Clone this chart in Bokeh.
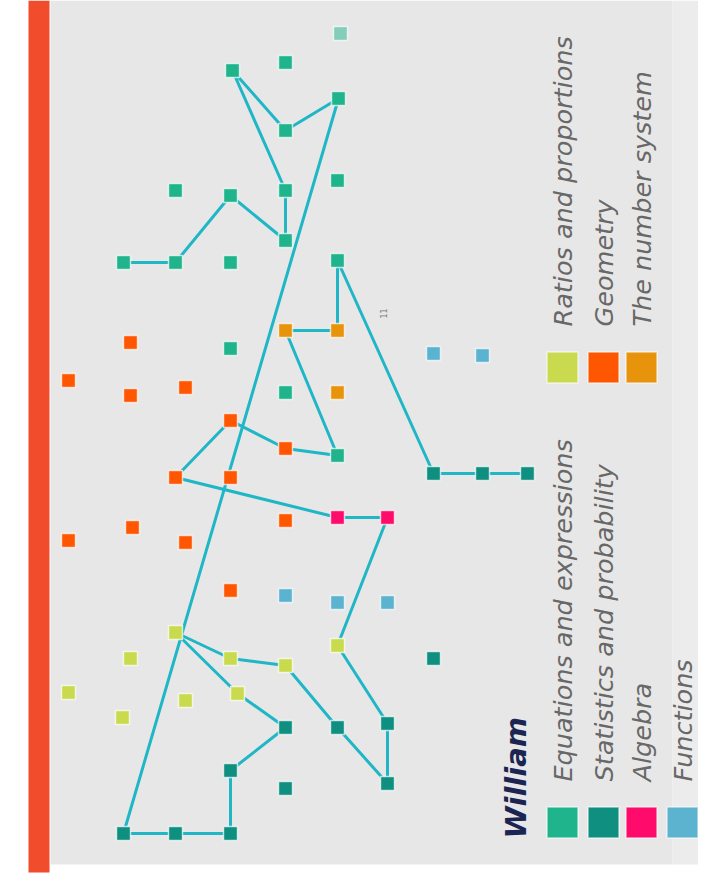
import math
from bokeh.plotting import figure
from bokeh.models import Range1d, BoxAnnotation, ColumnDataSource
from bokeh.core.properties import value
from bokeh.embed import file_html
from bokeh.resources import INLINE

# ---------------- data ----------------
student = "William"

categories = ["Equations and expressions", "Statistics and probability", "Algebra",
              "Functions", "Ratios and proportions", "Geometry", "The number system"]
cat_keys = ["EQ", "ST", "AL", "FN", "RA", "GE", "NS"]
cat_colors = ["#1fb48c", "#0e8f80", "#ff0b6c", "#5cb3d0", "#c9da4e", "#ff5602", "#e8930c"]

# skill positions (chart units: x = level column, y = position along the map)
eq_x = [232, 285, 338, 285, 175, 230, 285, 337, 123, 175, 230, 285, 337, 340, 230, 285, 337]
eq_y = [70, 62, 98, 130, 190, 195, 190, 180, 262, 262, 262, 240, 260, 33, 348, 392, 455]
st_x = [433, 482, 527, 433, 285, 337, 387, 230, 285, 387, 123, 175, 230]
st_y = [473, 473, 473, 658, 727, 727, 723, 770, 788, 783, 833, 833, 833]
al_x = [337, 387]
al_y = [517, 517]
fn_x = [433, 482, 285, 337, 387]
fn_y = [353, 355, 595, 602, 602]
ra_x = [175, 130, 230, 285, 337, 68, 185, 122, 237]
ra_y = [632, 658, 658, 665, 645, 692, 700, 717, 693]
ge_x = [130, 68, 130, 185, 230, 285, 175, 230, 285, 132, 68, 185, 230]
ge_y = [342, 380, 395, 387, 420, 448, 477, 477, 520, 527, 540, 542, 590]
ns_x = [285, 337, 337]
ns_y = [330, 330, 392]

# faded (not yet reached) skills
faded = [("EQ", 13)]

# learning path: sequence of (category, index)
path = [("EQ", 8), ("EQ", 9), ("EQ", 5), ("EQ", 11), ("EQ", 6), ("EQ", 0), ("EQ", 3), ("EQ", 2),
        ("ST", 10), ("ST", 11), ("ST", 12), ("ST", 7), ("ST", 4), ("RA", 8), ("RA", 0), ("RA", 2),
        ("RA", 3), ("ST", 5), ("ST", 9), ("ST", 6), ("RA", 4), ("AL", 1), ("AL", 0), ("GE", 6),
        ("GE", 4), ("GE", 5), ("EQ", 16), ("NS", 0), ("NS", 1), ("EQ", 12), ("ST", 0), ("ST", 1),
        ("ST", 2)]

small_labels = ["11"]
small_label_x = [383]
small_label_y = [313]

# ---------------- build ----------------
pts = {
    "EQ": (eq_x, eq_y), "ST": (st_x, st_y), "AL": (al_x, al_y), "FN": (fn_x, fn_y),
    "RA": (ra_x, ra_y), "GE": (ge_x, ge_y), "NS": (ns_x, ns_y),
}

p = figure(width=698, height=876, x_range=Range1d(0, 698), y_range=Range1d(876, 0),
           output_backend="svg", toolbar_location=None, min_border=0,
           x_axis_location=None, y_axis_location=None)
p.grid.visible = False
p.outline_line_color = None
p.background_fill_color = "white"
p.border_fill_color = "white"

p.add_layout(BoxAnnotation(left=50, right=672, top=0, bottom=864, fill_color="#e7e7e7",
                           fill_alpha=1, line_color=None, level="underlay"))
p.add_layout(BoxAnnotation(left=672, right=714, top=0, bottom=864, fill_color="#ececec",
                           fill_alpha=1, line_color=None, level="underlay"))
p.add_layout(BoxAnnotation(left=28, right=49, top=0, bottom=872, fill_color="#f14c2c",
                           fill_alpha=1, line_color=None, level="underlay"))

# path line
path_x = [pts[c][0][i] for c, i in path]
path_y = [pts[c][1][i] for c, i in path]
p.line(path_x, path_y, line_color="#1fb6c6", line_width=3)

# skill squares
for key, color in zip(cat_keys, cat_colors):
    xs, ys = pts[key]
    alphas = [0.5 if (key, i) in faded else 1.0 for i in range(len(xs))]
    src = ColumnDataSource(dict(x=xs, y=ys, a=alphas))
    p.scatter("x", "y", source=src, marker="square", size=14, fill_color=color,
              fill_alpha="a", line_color="white", line_width=1.5, line_alpha=0.7)

p.text(small_label_x, small_label_y, text=small_labels, angle=math.pi / 2,
       text_font=value("DejaVu Sans"), text_font_size="8px", text_color="#777777",
       text_align="center", text_baseline="middle")

# ---------------- legend (rotated) ----------------
lab_font = value("DejaVu Sans")
groups = [
    (categories[:4], cat_colors[:4], 822, 781),
    (categories[4:], cat_colors[4:], 367, 326),
]
col_x = [562, 603, 641, 682]
for labels, colors, sw_y, txt_y in groups:
    n = len(labels)
    xs = col_x[:n]
    p.scatter(xs, [sw_y] * n, marker="square", size=31, fill_color=colors,
              line_color="white", line_width=1.5, line_alpha=0.6)
    p.text(xs, [txt_y] * n, text=labels, angle=math.pi / 2, text_font=lab_font,
           text_font_size="25.5px", text_font_style="italic", text_color="#686868",
           text_align="left", text_baseline="middle")

p.text([515], [838], text=[student], angle=math.pi / 2, text_font=value("DejaVu Sans"),
       text_font_size="29px", text_font_style="bold italic", text_color="#1c2452",
       text_align="left", text_baseline="middle")

open("out.html", "w").write(file_html(p, INLINE))
